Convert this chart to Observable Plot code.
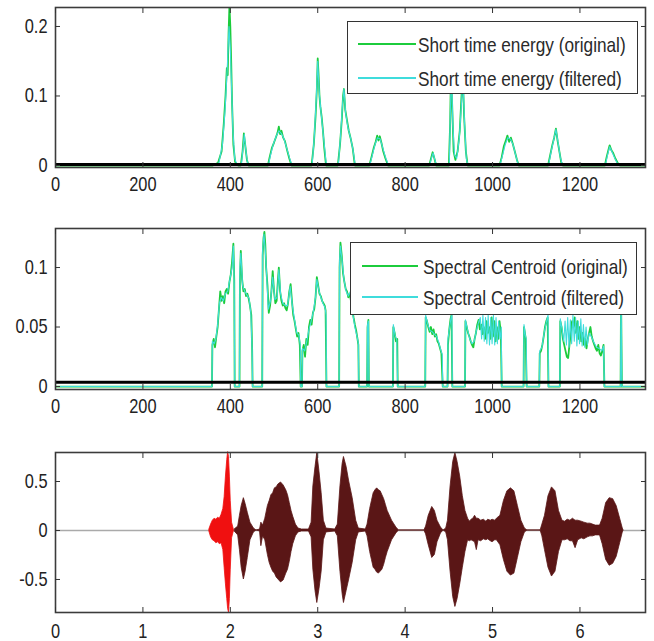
<!DOCTYPE html>
<html><head><meta charset="utf-8">
<script src="https://cdn.jsdelivr.net/npm/d3@7"></script>
<script src="https://cdn.jsdelivr.net/npm/@observablehq/plot@0.6"></script>
<style>
body{margin:0;background:#fff;}
#wrap{position:relative;width:654px;height:641px;overflow:hidden;font-family:'Liberation Sans',Arial,sans-serif;}
.panel{position:absolute;left:0;}
.legend{position:absolute;background:#fff;border:1.5px solid #333;box-sizing:border-box;}
.swatch{position:absolute;height:2px;}
.lab{position:absolute;font-size:21px;color:#2a2a2a;white-space:nowrap;line-height:1;transform-origin:0 50%;transform:translateY(-50%) scaleX(0.82);}
</style></head><body><div id="wrap"></div>
<script>
// ---------- data ----------
const frameTicks = [0, 200, 400, 600, 800, 1000, 1200];
const secondTicks = [0, 1, 2, 3, 4, 5, 6];
const energyTicks = [0, 0.1, 0.2];
const centroidTicks = [0, 0.05, 0.1];
const waveTicks = [-0.5, 0, 0.5];

const energyLabels = ["Short time energy (original)", "Short time energy (filtered)"];
const centroidLabels = ["Spectral Centroid (original)", "Spectral Centroid (filtered)"];

const energyThreshold = [0.0015];
const centroidThreshold = [0.0035];

// [frame, value]
const energyOriginal = [[0,0],[360,0],[372,0.004],[380,0.02],[385,0.06],[389,0.1],[392,0.14],[394,0.13],[396,0.19],[398,0.23],[400,0.2],[402,0.15],[404,0.09],[407,0.03],[411,0.005],[418,0],
[424,0],[428,0.02],[431,0.046],[434,0.03],[438,0.008],[442,0],
[486,0],[490,0.012],[495,0.025],[500,0.033],[504,0.04],[508,0.047],[511,0.056],[514,0.045],[517,0.05],[521,0.04],[525,0.035],[530,0.022],[535,0.01],[540,0],
[586,0],[591,0.03],[595,0.07],[598,0.11],[600,0.154],[602,0.13],[604,0.1],[606,0.085],[609,0.07],[612,0.05],[615,0.025],[619,0],
[646,0],[651,0.03],[655,0.065],[658,0.1],[660,0.11],[663,0.08],[667,0.065],[671,0.05],[675,0.04],[680,0.025],[685,0],
[718,0],[723,0.012],[728,0.025],[733,0.035],[736,0.043],[739,0.036],[742,0.042],[746,0.032],[750,0.02],[755,0.01],[761,0],
[855,0],[860,0.012],[863,0.019],[867,0.01],[871,0],
[900,0],[903,0.06],[905,0.14],[908,0.08],[911,0.02],[915,0.008],[920,0.02],[925,0.05],[929,0.1],[932,0.13],[935,0.07],[939,0.02],[943,0],
[1016,0],[1021,0.012],[1026,0.028],[1030,0.035],[1034,0.043],[1038,0.034],[1042,0.04],[1046,0.032],[1051,0.02],[1056,0.008],[1060,0],
[1127,0],[1132,0.015],[1137,0.03],[1141,0.04],[1145,0.053],[1149,0.035],[1153,0.02],[1157,0.005],[1161,0],
[1257,0],[1261,0.012],[1265,0.022],[1268,0.029],[1272,0.022],[1276,0.018],[1281,0.01],[1287,0.003],[1292,0],[1350,0]];

const energyFiltered = [[0,0],[362,0],[374,0.004],[382,0.03],[388,0.08],[393,0.14],[397,0.2],[400,0.17],[403,0.11],[406,0.05],[410,0.01],[416,0],
[425,0],[429,0.025],[432,0.045],[435,0.025],[439,0.005],[443,0],
[487,0],[492,0.015],[498,0.03],[505,0.042],[511,0.05],[517,0.046],[523,0.038],[529,0.025],[535,0.012],[541,0],
[587,0],[592,0.04],[597,0.1],[600,0.15],[603,0.11],[607,0.08],[611,0.055],[615,0.03],[619,0.005],[622,0],
[647,0],[652,0.04],[657,0.09],[660,0.11],[664,0.075],[669,0.055],[675,0.04],[680,0.025],[686,0],
[719,0],[725,0.015],[731,0.03],[737,0.04],[743,0.038],[749,0.025],[755,0.012],[762,0],
[856,0],[861,0.012],[864,0.018],[868,0.008],[872,0],
[901,0],[904,0.09],[906,0.14],[909,0.06],[913,0.015],[918,0.01],[924,0.04],[929,0.09],[932,0.13],[936,0.06],[940,0.01],[944,0],
[1017,0],[1023,0.015],[1029,0.03],[1035,0.04],[1041,0.038],[1047,0.03],[1053,0.015],[1059,0],
[1128,0],[1134,0.02],[1140,0.037],[1145,0.052],[1150,0.033],[1155,0.012],[1160,0],
[1258,0],[1263,0.015],[1268,0.027],[1273,0.02],[1280,0.01],[1288,0],[1350,0]];

const centroidOriginal = [[0,0],[358,0],[359,0.035],[362,0.04],[365,0.033],[368,0.042],[371,0.05],[374,0.065],[377,0.08],[380,0.072],[383,0.076],[386,0.07],[389,0.08],[392,0.082],[395,0.078],[398,0.088],[401,0.094],[404,0.105],[407,0.12],[409,0.09],[410,0],[421,0],[422,0.09],[424,0.114],[427,0.09],[430,0.08],[433,0.082],[436,0.076],[439,0.078],[442,0.074],[445,0.068],[448,0.06],[450,0.03],[451,0],
[473,0],[474,0.11],[476,0.125],[478,0.13],[480,0.12],[482,0.1],[485,0.085],[488,0.062],[491,0.068],[494,0.08],[497,0.097],[500,0.08],[503,0.07],[506,0.072],[509,0.09],[511,0.1],[514,0.08],[517,0.072],[520,0.068],[523,0.07],[526,0.066],[529,0.064],[532,0.07],[535,0.08],[538,0.086],[541,0.072],[544,0.06],[547,0.055],[550,0.048],[553,0.042],[556,0.045],[559,0.035],[561,0],
[564,0],[565,0.03],[568,0.035],[571,0.025],[574,0.04],[577,0.035],[580,0.05],[583,0.056],[586,0.052],[589,0.062],[592,0.065],[595,0.075],[598,0.092],[601,0.085],[604,0.078],[607,0.076],[610,0.072],[613,0.07],[616,0.068],[618,0.064],[620,0],
[649,0],[650,0.1],[652,0.121],[655,0.11],[658,0.095],[661,0.088],[664,0.082],[667,0.08],[670,0.075],[673,0.078],[676,0.072],[679,0.065],[682,0.058],[685,0.052],[688,0.047],[691,0.04],[693,0.035],[694,0],
[713,0],[714,0.05],[716,0.056],[717,0],[772,0],[773,0.05],[776,0.045],[779,0.038],[782,0.04],[783,0],
[846,0],[847,0.058],[850,0.055],[853,0.05],[856,0.046],[859,0.05],[862,0.044],[865,0.048],[868,0.042],[871,0.044],[874,0.038],[877,0.036],[880,0.032],[883,0.028],[886,0],
[897,0],[898,0.035],[901,0.048],[904,0.057],[906,0.06],[908,0],
[937,0],[938,0.055],[941,0.05],[944,0.045],[947,0.042],[950,0.038],[953,0.035],[956,0.033],[959,0.04],[962,0.045],[965,0.052],[968,0.056],[971,0.048],[974,0.052],[977,0.044],[980,0.05],[983,0.04],[986,0.055],[989,0.045],[992,0.05],[995,0.04],[998,0.058],[1001,0.042],[1004,0.055],[1007,0.038],[1010,0.05],[1013,0.04],[1016,0.055],[1019,0.045],[1021,0],
[1071,0],[1072,0.05],[1074,0.045],[1076,0.04],[1078,0],
[1107,0],[1108,0.028],[1111,0.03],[1114,0.035],[1117,0.042],[1120,0.05],[1123,0.055],[1126,0.058],[1128,0],
[1154,0],[1155,0.055],[1158,0.05],[1161,0.04],[1164,0.035],[1167,0.03],[1170,0.025],[1173,0.024],[1176,0.035],[1179,0.045],[1182,0.055],[1185,0.05],[1188,0.058],[1191,0.045],[1194,0.055],[1197,0.04],[1200,0.05],[1203,0.038],[1206,0.045],[1209,0.035],[1212,0.04],[1215,0.032],[1218,0.04],[1221,0.045],[1224,0.05],[1227,0.042],[1230,0.038],[1233,0.035],[1236,0.032],[1239,0.03],[1242,0.035],[1245,0.028],[1248,0.026],[1251,0.03],[1254,0.035],[1256,0],
[1293,0],[1294,0.08],[1296,0],[1350,0]];

const centroidFiltered = [[0,0],[358,0],[359,0.038],[363,0.036],[367,0.04],[371,0.052],[375,0.07],[379,0.075],[384,0.072],[389,0.078],[394,0.08],[399,0.09],[404,0.1],[407,0.118],[409,0.085],[410,0],[421,0],[422,0.1],[424,0.112],[428,0.085],[433,0.08],[438,0.077],[443,0.074],[447,0.062],[450,0.03],[451,0],
[473,0],[474,0.115],[477,0.128],[480,0.115],[483,0.095],[487,0.065],[492,0.072],[497,0.092],[502,0.073],[507,0.075],[511,0.098],[515,0.078],[520,0.07],[526,0.068],[531,0.068],[537,0.084],[542,0.068],[547,0.056],[552,0.045],[557,0.043],[560,0.035],[561,0],
[564,0],[565,0.032],[570,0.03],[575,0.038],[580,0.048],[585,0.055],[590,0.063],[595,0.075],[598,0.09],[602,0.082],[607,0.075],[612,0.07],[617,0.066],[619,0.06],[620,0],
[649,0],[650,0.105],[652,0.118],[656,0.105],[660,0.09],[665,0.08],[670,0.076],[675,0.08],[680,0.062],[685,0.05],[690,0.042],[693,0.036],[694,0],
[713,0],[714,0.052],[716,0.055],[717,0],[772,0],[773,0.052],[777,0.043],[781,0.039],[783,0],
[846,0],[847,0.06],[852,0.052],[857,0.047],[862,0.046],[867,0.044],[872,0.042],[877,0.037],[882,0.03],[885,0.027],[886,0],
[897,0],[898,0.04],[902,0.05],[905,0.058],[907,0.06],[908,0],
[937,0],[938,0.056],[943,0.047],[948,0.04],[953,0.036],[958,0.038],[963,0.047],[968,0.054],[972,0.058],[975,0.04],[978,0.06],[981,0.038],[984,0.058],[987,0.036],[990,0.06],[993,0.035],[996,0.058],[999,0.036],[1002,0.06],[1005,0.035],[1008,0.058],[1011,0.036],[1014,0.055],[1017,0.04],[1020,0.05],[1021,0],
[1071,0],[1072,0.052],[1075,0.043],[1077,0.04],[1078,0],
[1107,0],[1108,0.03],[1113,0.033],[1118,0.045],[1123,0.054],[1127,0.06],[1128,0],
[1154,0],[1155,0.057],[1159,0.048],[1163,0.038],[1166,0.055],[1169,0.035],[1172,0.058],[1175,0.033],[1178,0.056],[1181,0.036],[1184,0.06],[1187,0.038],[1190,0.058],[1193,0.034],[1196,0.055],[1199,0.036],[1202,0.057],[1205,0.034],[1208,0.052],[1211,0.033],[1214,0.05],[1217,0.035],[1221,0.045],[1226,0.042],[1232,0.037],[1238,0.033],[1244,0.032],[1250,0.03],[1254,0.034],[1256,0],
[1293,0],[1294,0.09],[1296,0],[1350,0]];

// waveform envelope: [seconds, upper, lower]
const voicedSegment = [[1.76,0.01,-0.01],[1.78,0.06,-0.07],[1.8,0.1,-0.1],[1.82,0.12,-0.11],[1.84,0.11,-0.13],[1.86,0.13,-0.12],[1.88,0.12,-0.14],[1.9,0.16,-0.13],[1.92,0.22,-0.2],[1.935,0.34,-0.38],[1.95,0.55,-0.55],[1.965,0.72,-0.7],[1.975,0.8,-0.8],[1.985,0.75,-0.84],[1.995,0.55,-0.7],[2.005,0.3,-0.4],[2.02,0.08,-0.08],[2.04,0.01,-0.01]];

const waveEnvelope = [[2.05,0.01,-0.01],[2.09,0.04,-0.05],[2.11,0.15,-0.2],[2.13,0.25,-0.38],[2.155,0.33,-0.5],[2.175,0.27,-0.42],[2.2,0.18,-0.28],[2.23,0.08,-0.1],[2.27,0.02,-0.02],[2.3,0,0],
[2.34,0.01,-0.01],[2.355,0.08,-0.16],[2.375,0.05,-0.06],[2.4,0.12,-0.1],[2.43,0.25,-0.25],[2.45,0.3,-0.33],[2.47,0.36,-0.38],[2.49,0.38,-0.42],[2.51,0.43,-0.44],[2.53,0.44,-0.48],[2.55,0.47,-0.5],[2.58,0.49,-0.53],[2.61,0.46,-0.51],[2.64,0.41,-0.44],[2.66,0.36,-0.4],[2.68,0.28,-0.32],[2.7,0.2,-0.22],[2.72,0.14,-0.14],[2.75,0.06,-0.06],[2.78,0.02,-0.02],[2.82,0.01,-0.01],
[2.9,0.01,-0.01],[2.93,0.08,-0.07],[2.95,0.45,-0.4],[2.975,0.65,-0.62],[2.995,0.79,-0.74],[3.02,0.6,-0.6],[3.045,0.38,-0.42],[3.07,0.1,-0.1],[3.1,0.02,-0.02],
[3.2,0.01,-0.01],[3.23,0.06,-0.06],[3.26,0.45,-0.42],[3.285,0.68,-0.65],[3.3,0.75,-0.74],[3.33,0.65,-0.62],[3.36,0.5,-0.5],[3.4,0.33,-0.33],[3.44,0.1,-0.1],[3.47,0.02,-0.02],
[3.55,0.01,-0.01],[3.57,0.06,-0.06],[3.6,0.22,-0.22],[3.62,0.3,-0.3],[3.64,0.38,-0.38],[3.66,0.41,-0.4],[3.68,0.43,-0.43],[3.7,0.41,-0.44],[3.72,0.4,-0.42],[3.74,0.36,-0.4],[3.76,0.32,-0.35],[3.78,0.26,-0.28],[3.8,0.2,-0.22],[3.85,0.1,-0.1],[3.9,0.03,-0.03],[3.93,0,0],
[4.22,0,0],[4.24,0.04,-0.04],[4.27,0.15,-0.15],[4.31,0.24,-0.28],[4.34,0.2,-0.25],[4.37,0.1,-0.12],[4.41,0.03,-0.03],[4.44,0,0],
[4.47,0.02,-0.02],[4.49,0.1,-0.1],[4.52,0.45,-0.42],[4.55,0.7,-0.68],[4.575,0.79,-0.78],[4.6,0.7,-0.7],[4.63,0.55,-0.55],[4.66,0.35,-0.38],[4.69,0.2,-0.22],[4.72,0.12,-0.1],[4.74,0.09,-0.11],[4.76,0.11,-0.1],[4.78,0.12,-0.11],[4.8,0.15,-0.12],[4.82,0.12,-0.2],[4.84,0.12,-0.1],[4.87,0.1,-0.11],[4.9,0.11,-0.09],[4.93,0.09,-0.1],[4.95,0.11,-0.09],[4.98,0.1,-0.11],[5.0,0.11,-0.12],[5.03,0.1,-0.1],[5.05,0.12,-0.1],[5.09,0.15,-0.15],[5.13,0.3,-0.3],[5.17,0.4,-0.42],[5.21,0.43,-0.46],[5.25,0.4,-0.44],[5.29,0.25,-0.28],[5.33,0.1,-0.12],[5.37,0.02,-0.02],[5.4,0,0],
[5.55,0,0],[5.57,0.06,-0.06],[5.6,0.15,-0.2],[5.64,0.35,-0.38],[5.68,0.44,-0.47],[5.72,0.4,-0.42],[5.76,0.2,-0.22],[5.8,0.1,-0.1],[5.83,0.09,-0.1],[5.86,0.11,-0.09],[5.89,0.1,-0.11],[5.92,0.12,-0.11],[5.95,0.1,-0.18],[5.98,0.1,-0.1],[6.02,0.09,-0.08],[6.05,0.08,-0.09],[6.09,0.07,-0.07],[6.12,0.07,-0.06],[6.15,0.06,-0.06],[6.18,0.05,-0.05],[6.23,0.05,-0.05],[6.26,0.12,-0.14],[6.3,0.28,-0.3],[6.34,0.33,-0.36],[6.38,0.32,-0.34],[6.42,0.25,-0.27],[6.46,0.12,-0.13],[6.49,0.02,-0.02],[6.5,0,0]];

// ---------- styling ----------
const GREEN = "#1ccc3c";
const CYAN = "#3fdcdc";
const MAROON = "#5a1616";
const RED = "#f01010";
const FONT = "'Liberation Sans',Arial,sans-serif";
const wrap = document.getElementById("wrap");

function axes(xTicks, yTicks, pad) {
  const fmt = d => String(d);
  const tk = {stroke: "#333", strokeWidth: 1, fill: "none"};
  return [
    Plot.axisX({ticks: xTicks, anchor: "bottom", tickSize: 5, dy: -5, ...tk}),
    Plot.axisX({ticks: xTicks, anchor: "top", tickSize: 5, dy: 5, ...tk}),
    Plot.axisY({ticks: yTicks, anchor: "left", tickSize: 5, dx: 5, ...tk}),
    Plot.axisY({ticks: yTicks, anchor: "right", tickSize: 5, dx: -5, ...tk}),
    Plot.axisX({ticks: xTicks, anchor: "bottom", tickSize: 0, tickPadding: pad, tickFormat: fmt, fill: "#222"}),
    Plot.axisY({ticks: yTicks, anchor: "left", tickSize: 0, tickPadding: 8, tickFormat: fmt, fill: "#222"})
  ];
}

function narrow(svg) {
  svg.querySelectorAll("g[aria-label$='tick label'] text").forEach(t => {
    const tr = t.getAttribute("transform");
    if (tr) {
      t.setAttribute("transform", tr + " scale(0.82,1)");
    } else {
      const x = +(t.getAttribute("x") || 0), y = +(t.getAttribute("y") || 0);
      t.removeAttribute("x"); t.removeAttribute("y");
      t.setAttribute("transform", `translate(${x},${y}) scale(0.82,1)`);
    }
  });
}

function panel(top, height, mt, mb, xDomain, yDomain, xTicks, yTicks, pad, marks) {
  const svg = Plot.plot({
    width: 654, height, marginTop: mt, marginBottom: mb, marginLeft: 55, marginRight: 9,
    x: {domain: xDomain}, y: {domain: yDomain},
    style: {fontFamily: FONT, fontSize: "20px", color: "#222", background: "transparent", overflow: "visible"},
    marks: [...marks, Plot.frame({stroke: "#3c3c3c", strokeWidth: 1.6}), ...axes(xTicks, yTicks, pad)]
  });
  narrow(svg);
  const d = document.createElement("div");
  d.className = "panel";
  d.style.top = top + "px";
  d.appendChild(svg);
  wrap.appendChild(d);
}

function legend(left, top, w, h, rows, swL, swR, textL, labels, colors) {
  const box = document.createElement("div");
  box.className = "legend";
  Object.assign(box.style, {left: left + "px", top: top + "px", width: w + "px", height: h + "px"});
  labels.forEach((lab, i) => {
    const s = document.createElement("div");
    s.className = "swatch";
    Object.assign(s.style, {left: swL + "px", width: (swR - swL) + "px", top: (rows[i] - 1) + "px", background: colors[i]});
    box.appendChild(s);
    const t = document.createElement("div");
    t.className = "lab";
    Object.assign(t.style, {left: textL + "px", top: rows[i] + "px"});
    t.textContent = lab;
    box.appendChild(t);
  });
  wrap.appendChild(box);
}

const P = d => d[0], V = d => d[1];

panel(0, 210, 7, 43, [0, 1350], [-0.0029, 0.2273], frameTicks, energyTicks, 9, [
  Plot.line(energyOriginal, {x: P, y: V, stroke: GREEN, strokeWidth: 1.8, clip: true}),
  Plot.line(energyFiltered, {x: P, y: V, stroke: CYAN, strokeWidth: 1.1, clip: true}),
  Plot.ruleY(energyThreshold, {stroke: "#000", strokeWidth: 3})
]);

panel(210, 220, 18, 41, [0, 1350], [-0.0025, 0.1328], frameTicks, centroidTicks, 9, [
  Plot.line(centroidOriginal, {x: P, y: V, stroke: GREEN, strokeWidth: 1.8, clip: true}),
  Plot.line(centroidFiltered, {x: P, y: V, stroke: CYAN, strokeWidth: 1.1, clip: true}),
  Plot.ruleY(centroidThreshold, {stroke: "#000", strokeWidth: 3})
]);

panel(430, 211, 22, 29, [0, 6.75], [-0.837, 0.796], secondTicks, waveTicks, 11, [
  Plot.ruleY([0], {stroke: "#aaa", strokeWidth: 1.5}),
  Plot.areaY(waveEnvelope, {x: d => d[0], y1: d => d[2], y2: d => d[1], fill: MAROON, stroke: MAROON, strokeWidth: 0.8}),
  Plot.areaY(voicedSegment, {x: d => d[0], y1: d => d[2], y2: d => d[1], fill: RED, stroke: RED, strokeWidth: 0.8})
]);

legend(347, 21, 291, 73, [22, 56], 10, 68, 70, energyLabels, [GREEN, CYAN]);
legend(350, 242, 287, 73, [23, 54], 11, 67, 72, centroidLabels, [GREEN, CYAN]);
</script></body></html>
